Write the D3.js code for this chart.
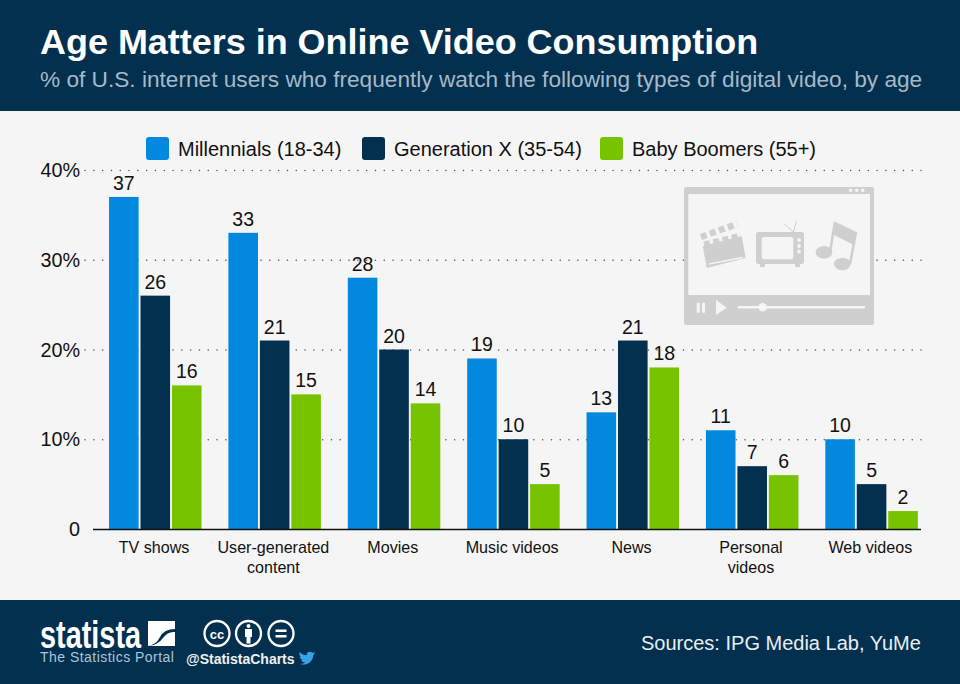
<!DOCTYPE html>
<html><head><meta charset="utf-8">
<script src="https://cdn.jsdelivr.net/npm/d3@7"></script>
<style>html,body{margin:0;padding:0;background:#f5f5f5}svg{display:block}text{font-family:"Liberation Sans",Arial,sans-serif}</style>
</head><body><div id="c"></div>
<script>
const categories=[["TV shows"],["User-generated","content"],["Movies"],["Music videos"],["News"],["Personal","videos"],["Web videos"]];
const seriesNames=["Millennials (18-34)","Generation X (35-54)","Baby Boomers (55+)"];
const colors=["#0388e0","#03304f","#77c300"];
const millennials=[37,33,28,19,13,11,10];
const generationX=[26,21,20,10,21,7,5];
const babyBoomers=[16,15,14,5,18,6,2];
const yTicks=[0,10,20,30,40];
const title="Age Matters in Online Video Consumption";
const subtitle="% of U.S. internet users who frequently watch the following types of digital video, by age";
const source="Sources: IPG Media Lab, YuMe";
const allSeries=[millennials,generationX,babyBoomers];

const W=960,H=684,dark="#03304f";
const svg=d3.select("#c").append("svg").attr("width",W).attr("height",H);
svg.append("rect").attr("width",W).attr("height",H).attr("fill","#f5f5f5");
svg.append("rect").attr("width",W).attr("height",111).attr("fill",dark);
svg.append("rect").attr("y",600).attr("width",W).attr("height",84).attr("fill",dark);
svg.append("text").attr("x",40).attr("y",54).attr("font-size",35.95).attr("font-weight",700).attr("fill","#fff").text(title);
svg.append("text").attr("x",40).attr("y",87).attr("font-size",22.65).attr("fill","#a5b9c8").text(subtitle);

const y=d3.scaleLinear().domain([0,40]).range([529,170]);
const x0=d3.scaleBand().domain(d3.range(categories.length)).range([95.33,931]);
const x1=d3.scaleBand().domain(d3.range(3)).range([13.7,106.2]).paddingInner(0.06);

// grid
const gridG=svg.append("g");
gridG.selectAll("line").data(yTicks.filter(d=>d>0)).join("line")
 .attr("x1",85).attr("x2",921).attr("y1",d=>y(d)+.5).attr("y2",d=>y(d)+.5)
 .attr("stroke","#555").attr("stroke-width",1.5).attr("stroke-linecap","round").attr("stroke-dasharray","0.1 8.7");
// y labels
svg.selectAll(".yl").data(yTicks).join("text").attr("class","yl").attr("x",80).attr("y",d=>y(d)+7)
 .attr("text-anchor","end").attr("font-size",19.8).attr("fill","#111").text(d=>d===0?"0":d+"%");

// icon
const icon=svg.append("g").attr("transform","translate(684,187)");
const ic="#cfcfcf",bg="#f5f5f5";
icon.append("rect").attr("width",190).attr("height",138).attr("rx",2).attr("fill",ic);
icon.append("rect").attr("x",4.3).attr("y",7).attr("width",181.7).attr("height",101).attr("fill",bg);
icon.selectAll(".dot").data([166.7,172.7,178.7]).join("circle").attr("cx",d=>d).attr("cy",3.2).attr("r",1.8).attr("fill",bg);
// clapper
icon.append("path").attr("d","M18.7 59 L57.7 49 L61.7 71 L22.7 81Z").attr("fill",ic);
icon.append("path").attr("d","M25 77 L58.7 70.5").attr("stroke",bg).attr("stroke-width",1.3);
icon.append("path").attr("d","M17 50 L53 37").attr("stroke",ic).attr("stroke-width",6.5).attr("stroke-dasharray","6 3.5").attr("fill","none");
icon.append("path").attr("d","M20 57 L57 48").attr("stroke",ic).attr("stroke-width",5).attr("stroke-dasharray","6 3.5").attr("fill","none");
// tv
icon.append("rect").attr("x",72).attr("y",45).attr("width",48).attr("height",32).attr("rx",2.5).attr("fill",ic);
icon.append("rect").attr("x",77.7).attr("y",50).attr("width",31.6).attr("height",22.3).attr("rx",2.5).attr("fill",bg);
icon.append("path").attr("d","M76 77h5v3h-5zM111 77h5v3h-5z").attr("fill",ic);
icon.append("path").attr("d","M109.3 45 L100.3 37 M109.3 45 L112.7 33.7").attr("stroke",ic).attr("stroke-width",1).attr("fill","none");
icon.selectAll(".k").data([53,59,64.5]).join("circle").attr("cx",115).attr("cy",d=>d).attr("r",1.9).attr("fill",bg);
// note
icon.append("path").attr("d","M151 34.700 L172 44.700 L170 58 L150 48Z").attr("fill",ic);
icon.append("path").attr("d","M151 35 L146 65 M172 45 L166 77").attr("stroke",ic).attr("stroke-width",2.6).attr("fill","none");
icon.append("ellipse").attr("cx",140).attr("cy",65.300).attr("rx",8.300).attr("ry",6.300).attr("fill",ic);
icon.append("ellipse").attr("cx",158.300).attr("cy",77).attr("rx",8.300).attr("ry",6.300).attr("fill",ic);
// controls
icon.append("path").attr("d","M12.700 115.700h3v10h-3zM18 115.700h3v10h-3zM32 113l10.700 7.700l-10.700 7.300z").attr("fill",bg);
icon.append("rect").attr("x",54).attr("y",119).attr("width",127).attr("height",2.500).attr("fill",bg);
icon.append("circle").attr("cx",78.700).attr("cy",120.200).attr("r",4.300).attr("fill",bg);

// legend
const lx=[146,362,600];
const leg=svg.selectAll(".leg").data(seriesNames).join("g").attr("class","leg").attr("transform",(d,i)=>`translate(${lx[i]},137)`);
leg.append("rect").attr("width",23).attr("height",23).attr("rx",3).attr("fill",(d,i)=>colors[i]);
leg.append("text").attr("x",32).attr("y",18.500).attr("font-size",20).attr("fill","#111").text(d=>d);

// bars
const groups=svg.selectAll(".grp").data(categories).join("g").attr("class","grp").attr("transform",(d,i)=>`translate(${x0(i)},0)`);
groups.each(function(_,ci){
 const g=d3.select(this);
 allSeries.forEach((s,si)=>{
  const v=s[ci];
  g.append("rect").attr("x",x1(si)).attr("y",y(v)).attr("width",x1.bandwidth()).attr("height",y(0)-y(v)).attr("fill",colors[si]);
  g.append("text").attr("x",x1(si)+x1.bandwidth()/2).attr("y",y(v)-7).attr("text-anchor","middle").attr("font-size",19.500).attr("fill","#111").text(v);
 });
 const t=g.append("text").attr("text-anchor","middle").attr("font-size",16.100).attr("fill","#111");
 categories[ci].forEach((ln,k)=>t.append("tspan").attr("x",x0.bandwidth()/2-1).attr("y",553+k*20).text(ln));
});
svg.append("line").attr("x1",93).attr("x2",921).attr("y1",y(0)+.5).attr("y2",y(0)+.5).attr("stroke","#111").attr("stroke-width",1.500);

// footer
svg.append("text").attr("x",641).attr("y",650).attr("font-size",20).attr("fill","#e8eef2").text(source);
svg.append("text").attr("transform","translate(40,648) scale(.76,1)").attr("font-size",38).attr("font-weight",700).attr("fill","#fff").text("statista");
svg.append("path").attr("d","M148 621h27v8q-11 0 -15 8t-12 9zM175 632v14h-27q10 -1 15 -8t12 -6z").attr("fill","#fff");
svg.append("text").attr("x",40).attr("y",662).attr("font-size",14).attr("fill","#a9c6dd").attr("letter-spacing",.47).text("The Statistics Portal");
svg.append("text").attr("x",186).attr("y",664).attr("font-size",14).attr("font-weight",700).attr("fill","#f0f0f0").text("@StatistaCharts");
const cc=svg.append("g").attr("fill","none").attr("stroke","#fff").attr("stroke-width",2.300);
[217,248.500,281].forEach(cx=>cc.append("circle").attr("cx",cx).attr("cy",633.500).attr("r",12.500));
svg.append("text").attr("x",217).attr("y",638.500).attr("text-anchor","middle").attr("font-size",13).attr("font-weight",700).attr("fill","#fff").text("cc");
svg.append("path").attr("d","M245 629h7v8h-1.500v6.500h-4v-6.500h-1.500z").attr("fill","#fff");
svg.append("circle").attr("cx",248.500).attr("cy",626).attr("r",2).attr("fill","#fff");
svg.append("path").attr("d","M275.500 629.500h11v2.500h-11zM275.500 635h11v2.500h-11z").attr("fill","#fff");
svg.append("path").attr("d","M298 654c4 2 7 0 9 -1c-3 0 -4 -1 -5 -3h2c-3 -1 -3 -2 -4 -4h2c-2 -1 -3 -4 -2 -6c2 2 5 4 9 4c-1 -4 4 -6 7 -3c1 0 2 -1 3 -1c0 1 -1 2 -2 3c1 0 2 -1 2 -1c0 1 -1 2 -2 2c0 8 -9 15 -19 10z").attr("transform","translate(298,652) scale(.8) translate(-298,-640)").attr("fill","#38a3e8");
</script></body></html>
